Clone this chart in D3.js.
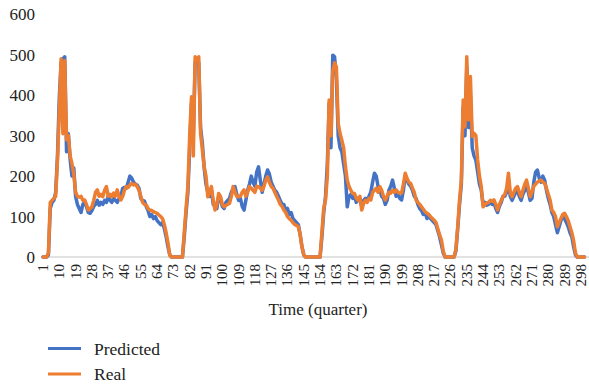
<!DOCTYPE html>
<html><head><meta charset="utf-8">
<script src="https://cdn.jsdelivr.net/npm/d3@7"></script>
<style>body{margin:0;background:#fff}svg{display:block}text{font-family:"Liberation Serif","DejaVu Serif",serif;fill:#222}</style>
</head><body><svg id="c" width="589" height="387"></svg>
<script>
const quarters = d3.range(1, 301);
const real = [0,0,0,10,135,140,145,150,240,360,490,305,485,290,300,250,230,205,160,150,148,150,140,141,130,116,120,124,140,160,166,150,155,149,165,174,150,155,149,158,150,166,150,141,150,165,174,172,178,182,178,180,174,165,150,135,130,128,120,116,115,112,110,108,104,100,95,80,60,35,5,0,0,0,0,0,0,0,60,120,175,300,396,250,495,487,495,306,265,223,200,149,160,174,140,116,130,157,150,130,124,128,130,133,150,174,160,150,149,150,160,166,150,160,174,170,165,160,175,174,170,165,175,190,198,185,175,170,160,150,141,130,125,116,110,100,95,91,85,80,78,75,55,25,5,0,0,0,0,0,0,0,0,0,60,120,141,200,388,300,460,480,470,330,306,289,270,223,190,174,165,157,157,145,140,150,116,132,140,135,145,141,160,165,170,160,174,165,150,141,150,160,158,165,160,166,160,158,158,180,207,195,185,182,170,160,141,135,130,124,118,112,108,105,100,95,91,85,70,55,42,15,0,0,0,0,0,0,20,75,141,190,388,322,495,339,446,298,306,300,240,200,174,124,130,133,135,140,138,141,130,116,130,140,149,155,170,207,160,149,160,170,174,160,149,165,180,190,170,149,160,175,180,185,188,190,185,182,170,155,141,116,110,100,75,85,95,105,108,100,90,75,60,40,10,0,0,0,0,0];
const predicted = [0,0,0,5,120,135,140,160,250,395,480,490,495,260,305,240,200,220,150,130,120,110,130,135,125,110,108,115,125,130,140,128,135,130,140,135,150,140,135,145,140,135,145,150,170,172,170,185,200,195,185,180,178,170,145,140,138,125,115,100,105,95,100,90,85,80,85,70,50,25,5,0,0,0,0,0,0,0,50,110,160,270,380,300,480,490,480,320,280,220,180,160,150,165,130,125,120,150,145,125,120,135,140,145,160,170,174,155,140,145,125,116,140,165,180,200,185,175,210,223,190,160,180,200,215,205,185,175,165,160,150,140,130,130,115,120,105,110,95,90,85,80,55,25,5,0,0,0,0,0,0,0,0,0,50,110,150,230,380,270,499,495,440,300,270,260,230,200,124,150,155,145,150,135,145,140,125,140,145,140,150,160,185,207,200,175,165,150,145,130,140,165,175,190,170,150,155,145,141,165,200,190,180,175,165,150,145,130,120,115,105,110,95,100,95,90,85,80,65,50,30,10,0,0,0,0,0,0,15,70,130,180,370,300,470,320,400,270,250,240,210,180,165,130,135,128,130,135,130,135,120,110,125,135,150,150,160,185,150,140,150,160,165,150,140,155,165,175,160,140,145,185,210,215,195,185,200,190,165,145,130,110,100,80,60,75,90,100,95,85,75,60,50,25,5,0,0,0,0,0];
const yTicks = [0,100,200,300,400,500,600];
const xTickLabels = quarters.filter(q => (q - 1) % 9 === 0);
const seriesNames = ["Predicted","Real"];
const seriesColors = ["#4472C4","#ED7D31"];

const svg = d3.select("#c");
const x = d3.scalePoint().domain(quarters).range([43, 584.5]);
const y = d3.scaleLinear().domain([0,600]).range([257, 14.3]);

svg.append("g").selectAll("text").data(yTicks).join("text")
  .attr("x", 35).attr("y", d => y(d)).attr("dy","0.35em")
  .attr("text-anchor","end").style("font-size","17px").text(d => d);

svg.append("line").attr("x1", 41).attr("x2", 589).attr("y1", y(0)).attr("y2", y(0))
  .attr("stroke","#d9d9d9").attr("stroke-width",1.3);

svg.append("g").selectAll("text").data(xTickLabels).join("text")
  .attr("transform", d => `translate(${x(d)},264) rotate(-90)`)
  .attr("dy","0.33em").attr("text-anchor","end").style("font-size","15px").text(d => d);

svg.append("text").attr("x", 318).attr("y", 315).attr("text-anchor","middle")
  .style("font-size","17px").text("Time (quarter)");

const line = d3.line().x((d,i) => x(quarters[i])).y(d => y(d));
[predicted, real].forEach((s, k) => {
  svg.append("path").datum(s).attr("d", line).attr("fill","none")
    .attr("stroke", seriesColors[k]).attr("stroke-width", 3.5)
    .attr("stroke-linejoin","round").attr("stroke-linecap","round");
});

const lg = svg.append("g");
seriesNames.forEach((n, k) => {
  const yy = 348.5 + k * 25.5;
  lg.append("line").attr("x1",48).attr("x2",81).attr("y1",yy).attr("y2",yy)
    .attr("stroke", seriesColors[k]).attr("stroke-width",3);
  lg.append("text").attr("x",94).attr("y",yy).attr("dy","0.35em")
    .style("font-size","17.5px").text(n);
});
</script></body></html>
